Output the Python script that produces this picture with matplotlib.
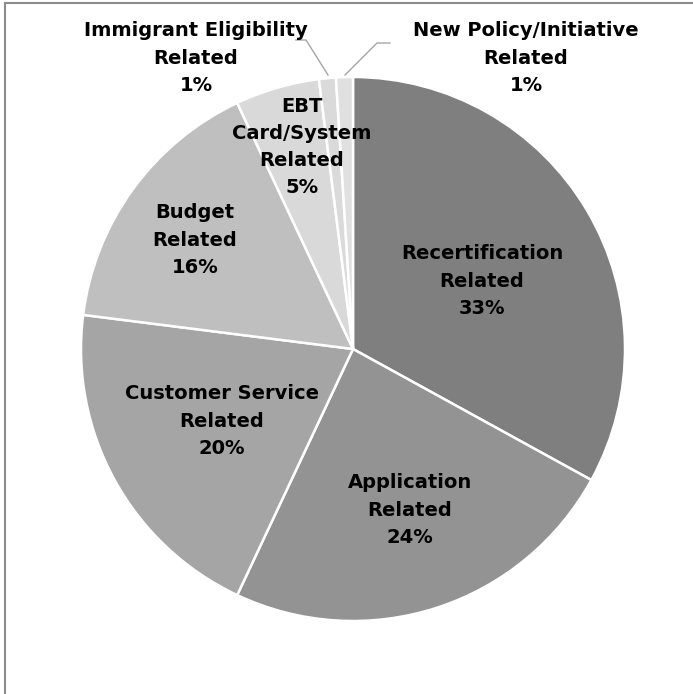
import matplotlib.pyplot as plt
from matplotlib.lines import Line2D

W, H = 693, 694

categories = ['Recertification\nRelated', 'Application\nRelated',
              'Customer Service\nRelated', 'Budget\nRelated',
              'EBT\nCard/System\nRelated', 'Immigrant Eligibility\nRelated',
              'New Policy/Initiative\nRelated']
shares = [33, 24, 20, 16, 5, 1, 1]
colors = ['#7f7f7f', '#939393', '#a5a5a5', '#bfbfbf', '#d9d9d9', '#dadada', '#e0e0e0']

# label centres in pixel coords (top-left origin)
label_pos = [(482, 281), (410, 510), (222, 421), (195, 240),
             (302, 147), (196, 58), (526, 58)]


def px(x, y):
    return x, H - y


fig = plt.figure(figsize=(W / 100, H / 100), dpi=100)
ax = fig.add_axes([0, 0, 1, 1])

ax.pie(shares, colors=colors, startangle=90, counterclock=False,
       center=px(353, 349), radius=272,
       wedgeprops=dict(edgecolor='white', linewidth=1.8))

# pie() resets the limits, so set them afterwards
ax.set_xlim(0, W)
ax.set_ylim(0, H)
ax.set_aspect('equal')
ax.axis('off')

for cat, val, (x, y) in zip(categories, shares, label_pos):
    ax.text(*px(x, y), f"{cat}\n{val}%", ha='center', va='center',
            fontsize=14, fontweight='bold', family='DejaVu Sans',
            linespacing=1.55, color='black')

# leader lines for the two small slices
lead = dict(color='#a6a6a6', linewidth=1)
ax.plot(*zip(px(296, 40), px(306, 40), px(328, 75)), **lead)
ax.plot(*zip(px(390, 43), px(377, 43), px(345, 75)), **lead)

# chart frame (only top and left visible in the crop)
fig.add_artist(Line2D([5 / W, 5 / W], [0, 1 - 3 / H], color='#8c8c8c', lw=1.5))
fig.add_artist(Line2D([5 / W, 1], [1 - 3 / H, 1 - 3 / H], color='#8c8c8c', lw=1.5))

fig.savefig('out.png', dpi=100)
